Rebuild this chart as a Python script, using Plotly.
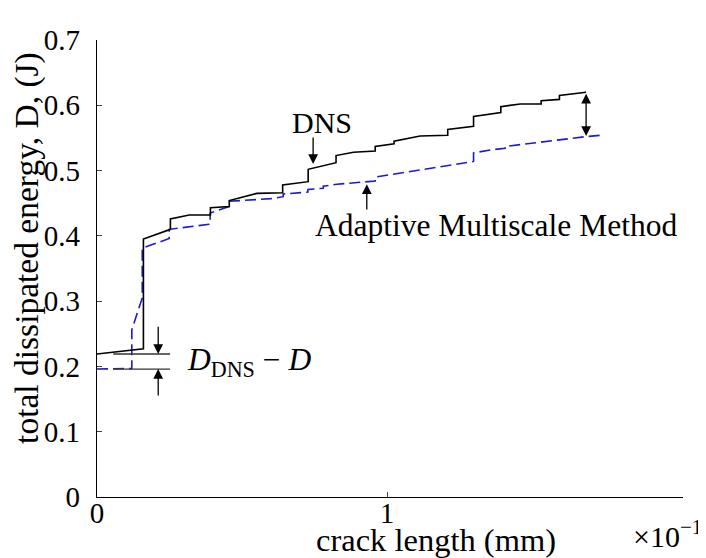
import plotly.graph_objects as go

# ---- data (crack length in units of 1e-1 mm, dissipated energy in J) ----
dns_crack = [0.000, 0.160, 0.160, 0.253, 0.253, 0.318, 0.391, 0.391, 0.456, 0.456,
             0.551, 0.640, 0.640, 0.728, 0.728, 0.824, 0.824, 0.884, 0.959, 0.959,
             1.024, 1.024, 1.114, 1.209, 1.209, 1.298, 1.298, 1.392, 1.392, 1.459,
             1.531, 1.531, 1.594, 1.594, 1.686]
dns_energy = [0.219, 0.227, 0.395, 0.410, 0.426, 0.432, 0.432, 0.443, 0.445, 0.454,
              0.465, 0.466, 0.478, 0.483, 0.502, 0.512, 0.523, 0.528, 0.530, 0.537,
              0.541, 0.545, 0.553, 0.554, 0.563, 0.568, 0.583, 0.589, 0.598, 0.602,
              0.602, 0.607, 0.609, 0.615, 0.620]

amm_crack = [0.000, 0.120, 0.120, 0.141, 0.156, 0.156, 0.249, 0.249, 0.390, 0.390,
             0.456, 0.456, 0.600, 0.642, 0.642, 0.727, 0.727, 0.780, 0.780, 0.827,
             0.959, 0.959, 1.114, 1.298, 1.298, 1.362, 1.407, 1.407, 1.686, 1.745]
amm_energy = [0.196, 0.197, 0.256, 0.286, 0.305, 0.381, 0.396, 0.410, 0.418, 0.435,
              0.445, 0.453, 0.457, 0.460, 0.464, 0.467, 0.471, 0.473, 0.476, 0.479,
              0.484, 0.490, 0.501, 0.514, 0.527, 0.532, 0.534, 0.537, 0.552, 0.5545]

y_tick_vals = [0, 0.1, 0.2, 0.3, 0.4, 0.5, 0.6, 0.7]
y_tick_text = ["0", "0.1", "0.2", "0.3", "0.4", "0.5", "0.6", "0.7"]
x_tick_vals = [0, 1]
x_tick_text = ["0", "1"]

FONT = "Liberation Serif"
fs = 29

fig = go.Figure()
fig.add_trace(go.Scatter(x=amm_crack, y=amm_energy, mode="lines",
                         line=dict(color="#1c1ccc", width=1.6, dash="11px,5px"),
                         showlegend=False, hoverinfo="skip"))
fig.add_trace(go.Scatter(x=dns_crack, y=dns_energy, mode="lines",
                         line=dict(color="black", width=1.6),
                         showlegend=False, hoverinfo="skip"))

axis_common = dict(showline=True, linecolor="black", linewidth=1.3, ticks="inside",
                   ticklen=5, tickwidth=1, tickcolor="#444", showgrid=False, zeroline=False,
                   tickfont=dict(family=FONT, size=fs, color="black"))

# page body has an 8px margin, so the figure is sized/offset to compensate
fig.update_layout(
    width=698, height=550,
    margin=dict(l=89, r=23, t=32, b=61),
    plot_bgcolor="white", paper_bgcolor="white",
    xaxis=dict(range=[0, 2.02], tickvals=x_tick_vals, ticktext=x_tick_text,
               ticklabelstandoff=-10, **axis_common),
    yaxis=dict(range=[0, 0.7], tickvals=y_tick_vals, ticktext=y_tick_text,
               ticklabelstandoff=10, **axis_common),
    font=dict(family=FONT, size=fs, color="black"),
)

arrow_style = dict(showarrow=True, arrowhead=2, arrowsize=1.5, arrowwidth=1.3,
                   arrowcolor="black", text="", xref="x", yref="y", axref="x", ayref="y")

# DNS label + arrow
fig.add_annotation(x=0.745, y=0.510, ax=0.745, ay=0.553, **arrow_style)
fig.add_annotation(x=0.776, y=0.574, text="DNS", showarrow=False,
                   font=dict(family=FONT, size=30), xanchor="center", yanchor="middle")
# Adaptive multiscale label + arrow
fig.add_annotation(x=0.930, y=0.479, ax=0.930, ay=0.438, **arrow_style)
fig.add_annotation(x=1.376, y=0.416, text="Adaptive Multiscale Method", showarrow=False,
                   font=dict(family=FONT, size=31.5), xanchor="center", yanchor="middle")
# double arrow at the end
fig.add_annotation(x=1.686, y=0.553, ax=1.686, ay=0.620, arrowside="end+start", **arrow_style)

# D_DNS - D marker
for yv in (dns_energy[0], amm_energy[0]):
    fig.add_shape(type="line", xref="x", yref="y", x0=0.056, x1=0.252, y0=yv, y1=yv,
                  line=dict(color="#333", width=1.3))
fig.add_annotation(x=0.211, y=dns_energy[0], ax=0.211, ay=0.263, **arrow_style)
fig.add_annotation(x=0.211, y=amm_energy[0], ax=0.211, ay=0.153, **arrow_style)
fig.add_annotation(x=0.303, y=0.207, text="<i>D</i><sub>DNS</sub> \u2212 <i>D</i>",
                   showarrow=False, font=dict(family=FONT, size=31.5),
                   xanchor="left", yanchor="middle")

# axis titles
fig.add_annotation(xref="paper", yref="paper", x=-0.1195, y=0.545,
                   text="total dissipated energy, D, (J)", textangle=-90, showarrow=False,
                   font=dict(family=FONT, size=33.5), xanchor="center", yanchor="middle")
fig.add_annotation(xref="paper", yref="paper", x=0.578, y=-0.095,
                   text="crack length (mm)", showarrow=False,
                   font=dict(family=FONT, size=32.5), xanchor="center", yanchor="middle")
fig.add_annotation(xref="paper", yref="paper", x=1.035, y=-0.080,
                   text="\u00d710<sup>\u22121</sup>", showarrow=False,
                   font=dict(family=FONT, size=30), xanchor="right", yanchor="middle")

fig.write_html("out.html")
